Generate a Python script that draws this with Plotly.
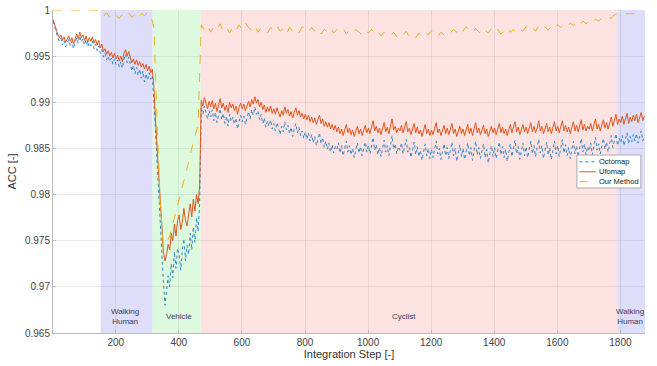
import plotly.graph_objects as go

# Integration steps
steps = list(range(1, 1877, 5))          # for Octomap / Ufomap
steps_ours = list(range(1, 1872, 10))    # for Our Method

# Octomap ACC (every 5th step)
octomap = [
    0.9988, 0.9981, 0.9976, 0.9970, 0.9966, 0.9969, 0.9962, 0.9967, 0.9960, 0.9964, 0.9968, 0.9961, 0.9966, 0.9958, 0.9963, 0.9970, 0.9964, 0.9972, 0.9965, 0.9969,
    0.9962, 0.9968, 0.9960, 0.9965, 0.9961, 0.9966, 0.9958, 0.9963, 0.9956, 0.9961, 0.9953, 0.9957, 0.9949, 0.9953, 0.9946, 0.9950, 0.9944, 0.9948, 0.9941, 0.9947,
    0.9941, 0.9946, 0.9938, 0.9944, 0.9937, 0.9947, 0.9952, 0.9943, 0.9949, 0.9940, 0.9934, 0.9940, 0.9931, 0.9938, 0.9929, 0.9936, 0.9926, 0.9934, 0.9922, 0.9931,
    0.9924, 0.9932, 0.9925, 0.9929, 0.9905, 0.9870, 0.9835, 0.9800, 0.9765, 0.9730, 0.9705, 0.9680, 0.9698, 0.9712, 0.9700, 0.9725, 0.9710, 0.9738, 0.9720, 0.9742,
    0.9735, 0.9718, 0.9740, 0.9752, 0.9728, 0.9745, 0.9735, 0.9758, 0.9740, 0.9765, 0.9748, 0.9775, 0.9760, 0.9790, 0.9895, 0.9887, 0.9896, 0.9888, 0.9882, 0.9891,
    0.9884, 0.9892, 0.9880, 0.9889, 0.9878, 0.9886, 0.9893, 0.9881, 0.9888, 0.9877, 0.9885, 0.9874, 0.9887, 0.9879, 0.9884, 0.9876, 0.9883, 0.9871, 0.9880, 0.9886,
    0.9879, 0.9885, 0.9876, 0.9883, 0.9890, 0.9882, 0.9892, 0.9886, 0.9895, 0.9887, 0.9891, 0.9881, 0.9887, 0.9877, 0.9883, 0.9873, 0.9880, 0.9874, 0.9881, 0.9871,
    0.9877, 0.9869, 0.9878, 0.9872, 0.9865, 0.9874, 0.9868, 0.9879, 0.9870, 0.9875, 0.9866, 0.9873, 0.9863, 0.9871, 0.9877, 0.9867, 0.9873, 0.9864, 0.9869, 0.9861,
    0.9868, 0.9860, 0.9867, 0.9858, 0.9865, 0.9856, 0.9863, 0.9853, 0.9861, 0.9867, 0.9855, 0.9862, 0.9851, 0.9858, 0.9849, 0.9856, 0.9846, 0.9854, 0.9845, 0.9852,
    0.9849, 0.9856, 0.9845, 0.9853, 0.9842, 0.9851, 0.9858, 0.9846, 0.9853, 0.9843, 0.9850, 0.9840, 0.9848, 0.9856, 0.9845, 0.9852, 0.9842, 0.9849, 0.9857, 0.9846,
    0.9853, 0.9844, 0.9855, 0.9862, 0.9848, 0.9854, 0.9843, 0.9851, 0.9841, 0.9850, 0.9859, 0.9846, 0.9853, 0.9842, 0.9855, 0.9864, 0.9849, 0.9855, 0.9844, 0.9852,
    0.9848, 0.9856, 0.9844, 0.9853, 0.9860, 0.9846, 0.9851, 0.9840, 0.9849, 0.9857, 0.9843, 0.9852, 0.9841, 0.9848, 0.9837, 0.9846, 0.9855, 0.9842, 0.9850, 0.9839,
    0.9849, 0.9840, 0.9851, 0.9858, 0.9844, 0.9850, 0.9838, 0.9847, 0.9855, 0.9842, 0.9851, 0.9839, 0.9848, 0.9857, 0.9842, 0.9850, 0.9836, 0.9846, 0.9854, 0.9841,
    0.9850, 0.9838, 0.9847, 0.9856, 0.9842, 0.9851, 0.9837, 0.9848, 0.9858, 0.9843, 0.9851, 0.9839, 0.9846, 0.9855, 0.9840, 0.9849, 0.9834, 0.9845, 0.9853, 0.9841,
    0.9851, 0.9839, 0.9848, 0.9857, 0.9843, 0.9852, 0.9840, 0.9849, 0.9836, 0.9846, 0.9855, 0.9841, 0.9850, 0.9859, 0.9844, 0.9852, 0.9838, 0.9847, 0.9856, 0.9842,
    0.9852, 0.9840, 0.9849, 0.9858, 0.9844, 0.9853, 0.9841, 0.9850, 0.9860, 0.9845, 0.9853, 0.9839, 0.9848, 0.9857, 0.9843, 0.9851, 0.9838, 0.9849, 0.9858, 0.9844,
    0.9853, 0.9841, 0.9851, 0.9860, 0.9845, 0.9854, 0.9842, 0.9851, 0.9839, 0.9849, 0.9858, 0.9844, 0.9853, 0.9841, 0.9851, 0.9861, 0.9846, 0.9855, 0.9843, 0.9852,
    0.9847, 0.9856, 0.9843, 0.9853, 0.9862, 0.9848, 0.9855, 0.9844, 0.9852, 0.9861, 0.9849, 0.9857, 0.9846, 0.9855, 0.9864, 0.9851, 0.9859, 0.9866, 0.9853, 0.9861,
    0.9856, 0.9864, 0.9853, 0.9861, 0.9867, 0.9855, 0.9863, 0.9857, 0.9865, 0.9858, 0.9866, 0.9856, 0.9863, 0.9869, 0.9858, 0.9864,
]

# Ufomap ACC (every 5th step)
ufomap = [
    0.9990, 0.9984, 0.9979, 0.9974, 0.9970, 0.9973, 0.9967, 0.9971, 0.9965, 0.9969, 0.9972, 0.9966, 0.9970, 0.9963, 0.9968, 0.9974, 0.9969, 0.9976, 0.9970, 0.9973,
    0.9967, 0.9972, 0.9965, 0.9970, 0.9966, 0.9971, 0.9964, 0.9968, 0.9962, 0.9967, 0.9959, 0.9963, 0.9955, 0.9958, 0.9952, 0.9956, 0.9950, 0.9954, 0.9948, 0.9953,
    0.9947, 0.9951, 0.9945, 0.9950, 0.9944, 0.9953, 0.9957, 0.9950, 0.9955, 0.9948, 0.9943, 0.9947, 0.9941, 0.9946, 0.9940, 0.9944, 0.9938, 0.9942, 0.9936, 0.9941,
    0.9934, 0.9939, 0.9932, 0.9936, 0.9915, 0.9880, 0.9850, 0.9820, 0.9790, 0.9762, 0.9738, 0.9728, 0.9735, 0.9746, 0.9740, 0.9758, 0.9750, 0.9768, 0.9755, 0.9772,
    0.9778, 0.9762, 0.9770, 0.9785, 0.9772, 0.9766, 0.9780, 0.9790, 0.9776, 0.9795, 0.9782, 0.9800, 0.9790, 0.9810, 0.9902, 0.9896, 0.9905, 0.9898, 0.9893, 0.9901,
    0.9895, 0.9902, 0.9893, 0.9899, 0.9890, 0.9897, 0.9904, 0.9894, 0.9899, 0.9891, 0.9897, 0.9889, 0.9900, 0.9894, 0.9898, 0.9891, 0.9896, 0.9887, 0.9895, 0.9899,
    0.9893, 0.9898, 0.9891, 0.9896, 0.9901, 0.9895, 0.9903, 0.9898, 0.9906, 0.9899, 0.9903, 0.9895, 0.9900, 0.9892, 0.9897, 0.9889, 0.9895, 0.9890, 0.9896, 0.9888,
    0.9893, 0.9887, 0.9894, 0.9889, 0.9884, 0.9891, 0.9886, 0.9895, 0.9888, 0.9892, 0.9885, 0.9890, 0.9883, 0.9889, 0.9894, 0.9886, 0.9891, 0.9884, 0.9888, 0.9882,
    0.9887, 0.9881, 0.9886, 0.9879, 0.9884, 0.9878, 0.9883, 0.9876, 0.9881, 0.9886, 0.9877, 0.9882, 0.9874, 0.9879, 0.9873, 0.9878, 0.9871, 0.9876, 0.9870, 0.9875,
    0.9868, 0.9873, 0.9866, 0.9871, 0.9864, 0.9870, 0.9876, 0.9867, 0.9872, 0.9865, 0.9870, 0.9863, 0.9868, 0.9874, 0.9866, 0.9871, 0.9864, 0.9869, 0.9875, 0.9867,
    0.9872, 0.9866, 0.9873, 0.9880, 0.9869, 0.9874, 0.9867, 0.9872, 0.9865, 0.9871, 0.9878, 0.9868, 0.9873, 0.9866, 0.9875, 0.9882, 0.9870, 0.9874, 0.9867, 0.9872,
    0.9869, 0.9875, 0.9867, 0.9873, 0.9879, 0.9868, 0.9872, 0.9865, 0.9871, 0.9877, 0.9867, 0.9873, 0.9866, 0.9870, 0.9863, 0.9869, 0.9876, 0.9866, 0.9871, 0.9864,
    0.9870, 0.9865, 0.9872, 0.9878, 0.9867, 0.9871, 0.9864, 0.9869, 0.9875, 0.9866, 0.9872, 0.9865, 0.9870, 0.9877, 0.9866, 0.9871, 0.9863, 0.9868, 0.9874, 0.9866,
    0.9871, 0.9864, 0.9869, 0.9876, 0.9866, 0.9872, 0.9864, 0.9870, 0.9878, 0.9867, 0.9872, 0.9865, 0.9869, 0.9875, 0.9866, 0.9871, 0.9863, 0.9868, 0.9874, 0.9867,
    0.9872, 0.9865, 0.9870, 0.9877, 0.9867, 0.9873, 0.9866, 0.9871, 0.9864, 0.9869, 0.9876, 0.9867, 0.9872, 0.9879, 0.9868, 0.9873, 0.9865, 0.9870, 0.9876, 0.9868,
    0.9873, 0.9866, 0.9871, 0.9878, 0.9868, 0.9874, 0.9867, 0.9872, 0.9880, 0.9869, 0.9874, 0.9866, 0.9871, 0.9877, 0.9868, 0.9873, 0.9866, 0.9872, 0.9879, 0.9869,
    0.9874, 0.9867, 0.9873, 0.9880, 0.9869, 0.9875, 0.9868, 0.9873, 0.9866, 0.9872, 0.9879, 0.9869, 0.9875, 0.9868, 0.9874, 0.9881, 0.9870, 0.9876, 0.9869, 0.9874,
    0.9871, 0.9877, 0.9869, 0.9875, 0.9882, 0.9871, 0.9876, 0.9869, 0.9874, 0.9881, 0.9872, 0.9878, 0.9871, 0.9877, 0.9884, 0.9874, 0.9880, 0.9887, 0.9876, 0.9882,
    0.9878, 0.9885, 0.9876, 0.9882, 0.9888, 0.9877, 0.9884, 0.9879, 0.9886, 0.9880, 0.9887, 0.9878, 0.9884, 0.9889, 0.9880, 0.9885,
]

# Our Method ACC (every 10th step)
our_method = [
    1.0000, 1.0000, 1.0000, 1.0000, 1.0000, 1.0000, 1.0000, 1.0000, 1.0000, 1.0000, 1.0000, 1.0000, 1.0000, 1.0000, 1.0000,
    0.9995, 0.9993, 0.9997, 0.9992, 0.9996, 0.9994, 0.9991, 0.9995, 0.9993, 0.9997, 0.9992, 0.9995, 0.9991, 0.9996, 0.9994, 0.9997, 0.9995,
    0.9980, 0.9880, 0.9790, 0.9745, 0.9748, 0.9755, 0.9768, 0.9780, 0.9795, 0.9808, 0.9822, 0.9835, 0.9850, 0.9862, 0.9876,
    0.9984, 0.9978, 0.9983, 0.9976, 0.9982, 0.9979, 0.9985, 0.9977, 0.9981, 0.9975,
    0.9982, 0.9978, 0.9984, 0.9979, 0.9986, 0.9981, 0.9978, 0.9983, 0.9976, 0.9981,
    0.9979, 0.9975, 0.9981, 0.9978, 0.9983, 0.9977, 0.9980, 0.9974, 0.9981, 0.9977,
    0.9979, 0.9975, 0.9982, 0.9978, 0.9976, 0.9981, 0.9977, 0.9980, 0.9974, 0.9979,
    0.9977, 0.9981, 0.9975, 0.9979, 0.9976, 0.9980, 0.9974, 0.9978, 0.9975, 0.9979,
    0.9976, 0.9973, 0.9978, 0.9975, 0.9979, 0.9974, 0.9977, 0.9972, 0.9976, 0.9974,
    0.9972, 0.9976, 0.9971, 0.9975, 0.9973, 0.9977, 0.9971, 0.9974, 0.9970, 0.9975,
    0.9972, 0.9976, 0.9973, 0.9978, 0.9974, 0.9971, 0.9976, 0.9973, 0.9977, 0.9975,
    0.9979, 0.9976, 0.9981, 0.9977, 0.9982, 0.9978, 0.9975, 0.9980, 0.9977, 0.9973,
    0.9978, 0.9975, 0.9980, 0.9976, 0.9979, 0.9974, 0.9977, 0.9981, 0.9976, 0.9979,
    0.9975, 0.9979, 0.9977, 0.9982, 0.9978, 0.9981, 0.9977, 0.9983, 0.9979, 0.9982,
    0.9978, 0.9983, 0.9980, 0.9984, 0.9981, 0.9985, 0.9982, 0.9986, 0.9983, 0.9987,
    0.9984, 0.9988, 0.9985, 0.9989, 0.9987, 0.9990, 0.9988, 0.9991, 0.9990, 0.9992,
    0.9991, 0.9995, 0.9996, 0.9996, 0.9996, 0.9996, 0.9996, 0.9996, 0.9996, 0.9996, 0.9996,
]

# Scenario segments
segment_starts = [152, 317, 470, 1790]
segment_ends = [317, 470, 1790, 1878]
segment_labels = ["Walking<br>Human", "Vehicle", "Cyclist", "Walking<br>Human"]
segment_label_x = [228, 400, 1115, 1832]
segment_colors = ["rgb(222,222,250)", "rgb(222,250,222)", "rgb(253,226,226)", "rgb(222,222,250)"]

series_names = ["Octomap", "Ufomap", "Our Method"]
series_colors = ["#2f86c8", "#e0561c", "#edb120"]
series_dash = ["dot", "solid", "dash"]

x_ticks = [200, 400, 600, 800, 1000, 1200, 1400, 1600, 1800]
y_ticks = [0.965, 0.97, 0.975, 0.98, 0.985, 0.99, 0.995, 1.0]
y_ticktext = ["0.965", "0.97", "0.975", "0.98", "0.985", "0.99", "0.995", "1"]

FONT = "Arial, Liberation Sans, sans-serif"

fig = go.Figure()
series_x = [steps, steps, steps_ours]
series_y = [octomap, ufomap, our_method]
for xs, ys, nm, col, dsh in zip(series_x, series_y, series_names, series_colors, series_dash):
    fig.add_trace(go.Scatter(x=xs, y=ys, mode="lines", name=nm, showlegend=False,
                             line=dict(color=col, width=1, dash=dsh)))

for x0, x1, col in zip(segment_starts, segment_ends, segment_colors):
    fig.add_shape(type="rect", xref="x", yref="paper", x0=x0, x1=x1, y0=0, y1=1,
                  fillcolor=col, line=dict(width=0), layer="below")

for lx, lab in zip(segment_label_x, segment_labels):
    fig.add_annotation(x=lx, y=0.9668, xref="x", yref="y", text=lab, showarrow=False,
                       font=dict(family=FONT, size=8, color="#3a3a5a"))

# compact legend box (drawn in paper coordinates)
fig.add_shape(type="rect", xref="paper", yref="paper", x0=0.885, x1=0.993, y0=0.449, y1=0.551,
              fillcolor="white", line=dict(color="#aaa", width=1), layer="above")
legend_rows = [0.530, 0.499, 0.468]
for ry, nm, col, dsh in zip(legend_rows, series_names, series_colors, series_dash):
    fig.add_shape(type="line", xref="paper", yref="paper", x0=0.889, x1=0.917, y0=ry, y1=ry,
                  line=dict(color=col, width=1, dash=dsh), layer="above")
    fig.add_annotation(x=0.919, y=ry, xref="paper", yref="paper", text=nm, showarrow=False,
                       xanchor="left", yanchor="middle",
                       font=dict(family=FONT, size=7.5, color="#222"))

fig.update_layout(
    width=657, height=366,
    margin=dict(l=53, r=12, t=10, b=33),
    paper_bgcolor="white", plot_bgcolor="white",
    font=dict(family=FONT, size=10, color="#333"),
    showlegend=False,
    xaxis=dict(range=[1, 1878], tickvals=x_ticks, showgrid=True, automargin=False,
               gridcolor="rgba(0,0,0,0.07)", zeroline=False,
               showline=True, linecolor="#bbb", ticks="inside", ticklen=3, tickcolor="#bbb",
               tickfont=dict(size=10, color="#444"),
               title=dict(text="Integration Step [-]", font=dict(size=11, color="#333"), standoff=2)),
    yaxis=dict(range=[0.965, 1.0], tickvals=y_ticks, ticktext=y_ticktext, showgrid=True, automargin=False,
               gridcolor="rgba(0,0,0,0.07)", zeroline=False,
               showline=True, linecolor="#bbb", ticks="inside", ticklen=3, tickcolor="#bbb",
               tickfont=dict(size=10, color="#444"),
               title=dict(text="ACC [-]", font=dict(size=11, color="#333"), standoff=6)),
)

fig.write_html("out.html", config={"displayModeBar": False},
               post_script="document.body.style.margin='0';")
